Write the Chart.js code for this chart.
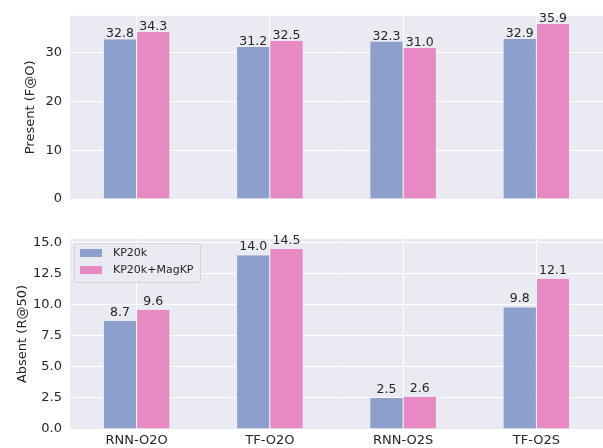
<!DOCTYPE html>
<html lang="en">
<head>
    <meta charset="UTF-8">
    <title>Present / Absent keyphrase scores</title>
    <script src="https://cdn.jsdelivr.net/npm/chart.js"></script>
    <style>
        body { margin: 0; background: #fff; width: 603px; height: 448px; overflow: hidden; position: relative; }
        canvas { position: absolute; left: 0; }
        #topChart { top: 0; }
        #bottomChart { top: 220px; }
    </style>
</head>
<body>
    <canvas id="topChart" width="603" height="220"></canvas>
    <canvas id="bottomChart" width="603" height="228"></canvas>

    <script>
        const categories = ['RNN-O2O', 'TF-O2O', 'RNN-O2S', 'TF-O2S'];
        const seriesNames = ['KP20k', 'KP20k+MagKP'];
        const presentKP20k = [32.8, 31.2, 32.3, 32.9];
        const presentMagKP = [34.3, 32.5, 31.0, 35.9];
        const absentKP20k = [8.7, 14.0, 2.5, 9.8];
        const absentMagKP = [9.6, 14.5, 2.6, 12.1];
        const presentTicks = [0, 10, 20, 30];
        const absentTicks = [0, 2.5, 5, 7.5, 10, 12.5, 15];

        const BLUE = '#8da0cb';
        const PINK = '#e78ac3';
        const TEXT = '#262626';
        const FONT = 'DejaVu Sans';

        // grey seaborn-style plot background
        const plotBg = {
            id: 'plotBg',
            beforeDraw(chart) {
                const { ctx, chartArea: a } = chart;
                ctx.save();
                ctx.fillStyle = '#eaeaf2';
                ctx.fillRect(a.left, a.top, a.right - a.left, a.bottom - a.top);
                ctx.restore();
            }
        };

        // numbers above each bar
        const valueLabels = {
            id: 'valueLabels',
            afterDatasetsDraw(chart, args, opts) {
                const ctx = chart.ctx;
                ctx.save();
                ctx.font = '12.5px "' + FONT + '"';
                ctx.fillStyle = TEXT;
                ctx.textAlign = 'center';
                ctx.textBaseline = 'alphabetic';
                chart.data.datasets.forEach((ds, i) => {
                    chart.getDatasetMeta(i).data.forEach((bar, j) => {
                        ctx.fillText(ds.data[j].toFixed(1), bar.x, bar.y - opts.gap);
                    });
                });
                ctx.restore();
            }
        };

        // legend box inside the plot, upper left
        const innerLegend = {
            id: 'innerLegend',
            afterDraw(chart) {
                const { ctx, chartArea: a } = chart;
                const x = a.left + 4, y = a.top + 4;
                ctx.save();
                ctx.fillStyle = 'rgba(234,234,242,0.8)';
                ctx.strokeStyle = '#d4d4da';
                ctx.lineWidth = 1;
                ctx.beginPath();
                ctx.roundRect(x + 0.5, y + 0.5, 126, 39, 2);
                ctx.fill();
                ctx.stroke();
                ctx.font = '11px "' + FONT + '"';
                ctx.textBaseline = 'middle';
                chart.data.datasets.forEach((ds, i) => {
                    const cy = y + 10 + i * 17;
                    ctx.fillStyle = ds.backgroundColor;
                    ctx.fillRect(x + 6, cy - 4, 22, 8);
                    ctx.fillStyle = TEXT;
                    ctx.fillText(ds.label, x + 39, cy);
                });
                ctx.restore();
            }
        };

        function makeChart(id, blue, pink, ticks, yMax, title, titlePad, topPad, xHeight, showX, gap) {
            return new Chart(document.getElementById(id), {
                type: 'bar',
                data: {
                    labels: categories,
                    datasets: [
                        { label: seriesNames[0], data: blue, backgroundColor: BLUE, borderColor: '#ffffff', borderWidth: { left: 0.5, right: 0.5 }, borderSkipped: 'bottom' },
                        { label: seriesNames[1], data: pink, backgroundColor: PINK, borderColor: '#ffffff', borderWidth: { left: 0.5, right: 0.5 }, borderSkipped: 'bottom' }
                    ]
                },
                options: {
                    responsive: false,
                    animation: false,
                    layout: { padding: { top: topPad, left: 0, right: 0, bottom: 0 } },
                    datasets: { bar: { categoryPercentage: 0.5, barPercentage: 1.0 } },
                    plugins: {
                        legend: { display: false },
                        tooltip: { enabled: false },
                        valueLabels: { gap: gap }
                    },
                    scales: {
                        x: {
                            grid: { color: '#ffffff', lineWidth: 1, offset: false, drawTicks: false },
                            border: { display: false },
                            ticks: { display: showX, color: TEXT, padding: 4, font: { family: FONT, size: 13 } },
                            afterFit: (s) => { s.height = xHeight; }
                        },
                        y: {
                            min: 0,
                            max: yMax,
                            afterBuildTicks: (s) => { s.ticks = ticks.map(v => ({ value: v })); },
                            grid: { color: '#ffffff', lineWidth: 1, drawTicks: false },
                            border: { display: false },
                            ticks: {
                                color: TEXT,
                                padding: 8,
                                font: { family: FONT, size: 13 },
                                callback: (v) => (ticks.some(t => t % 1 !== 0) ? v.toFixed(1) : String(v))
                            },
                            title: { display: true, text: title, color: TEXT, font: { family: FONT, size: 13 }, padding: { top: titlePad, bottom: 0 } },
                            afterFit: (s) => { s.width = 70; }
                        }
                    }
                },
                plugins: id === 'bottomChart' ? [plotBg, valueLabels, innerLegend] : [plotBg, valueLabels]
            });
        }

        makeChart('topChart', presentKP20k, presentMagKP, presentTicks, 37.6, 'Present (F@O)', 22.5, 10, 21, false, 2);
        makeChart('bottomChart', absentKP20k, absentMagKP, absentTicks, 15.3, 'Absent (R@50)', 14.5, 19, 19, true, 5);
    </script>
</body>
</html>
